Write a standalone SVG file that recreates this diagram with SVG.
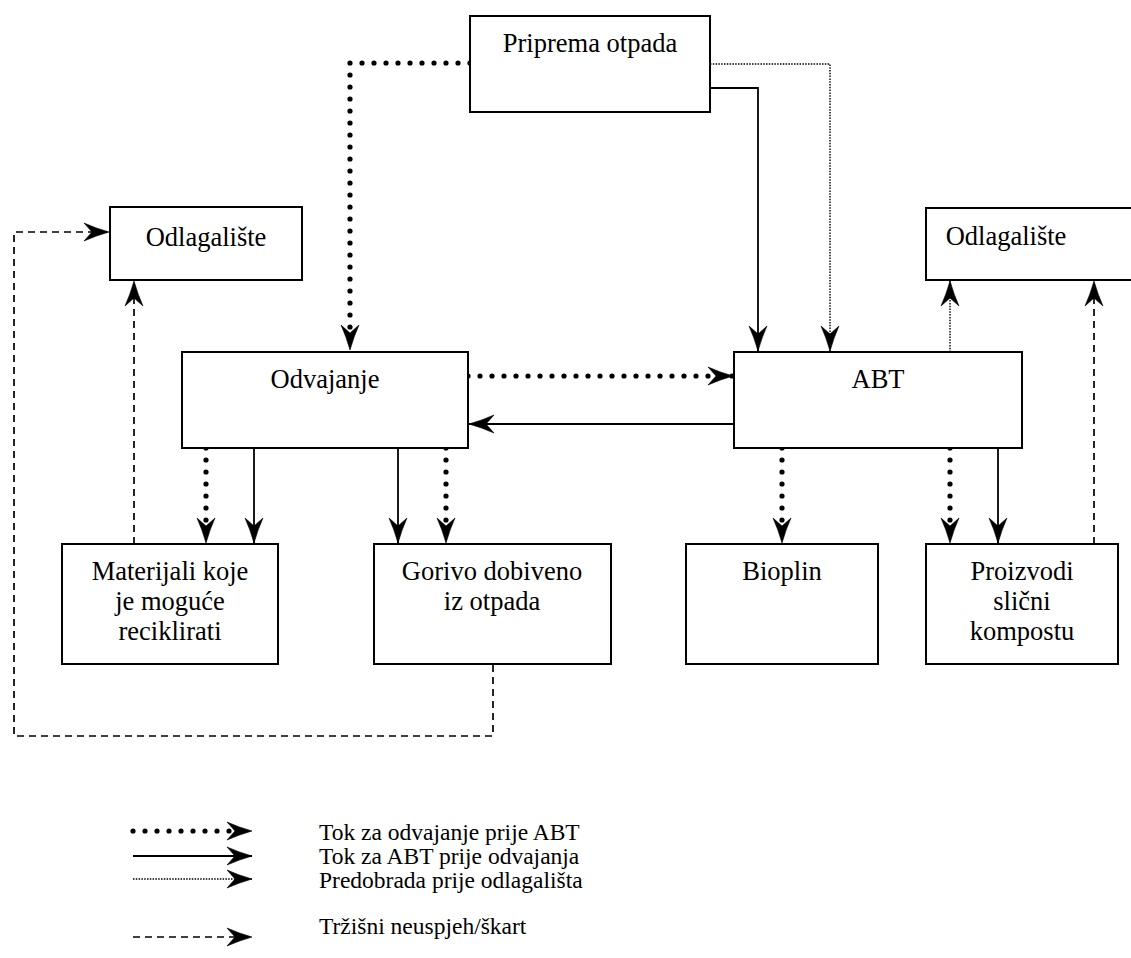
<svg xmlns="http://www.w3.org/2000/svg" width="1131" height="958" viewBox="0 0 1131 958">
<style>
.box{fill:#fff;stroke:#000;stroke-width:2}
.t{font-family:"Liberation Serif","Times New Roman",serif;font-size:26.5px;fill:#000;text-anchor:middle}
.lt{font-family:"Liberation Serif","Times New Roman",serif;font-size:23.5px;fill:#000}
.big{fill:none;stroke:#000;stroke-width:5.2;stroke-linecap:round;stroke-dasharray:0 12}
.sol{fill:none;stroke:#000;stroke-width:1.8}
.fine{fill:none;stroke:#000;stroke-width:1.4;stroke-dasharray:1.5 1.3}
.dash{fill:none;stroke:#000;stroke-width:1.7;stroke-dasharray:7 5}
.arr{marker-end:url(#ah)}
</style>
<defs>
<marker id="ah" markerUnits="userSpaceOnUse" orient="auto" refX="0" refY="0" markerWidth="40" markerHeight="40" style="overflow:visible">
<path d="M0,0 Q-14,-4 -25,-9 L-17,0 L-25,9 Q-14,4 0,0 Z" fill="#000" stroke="#000" stroke-width="0.6" stroke-linejoin="round"/>
</marker>
</defs>
<rect width="1131" height="958" fill="#fff"/>

<g id="connectors">
<path class="big arr" d="M470,63 H350 V350"/>
<path class="sol arr" d="M710,88 H758 V351"/>
<path class="fine arr" d="M710,64 H830 V351"/>
<path class="big arr" d="M468,376 H733"/>
<path class="sol arr" d="M734,424 H469"/>
<path class="big arr" d="M206,448 V543"/>
<path class="sol arr" d="M254,448 V543"/>
<path class="sol arr" d="M398,448 V543"/>
<path class="big arr" d="M446,448 V543"/>
<path class="big arr" d="M782,448 V543"/>
<path class="big arr" d="M950,448 V543"/>
<path class="sol arr" d="M998,448 V543"/>
<path class="fine arr" d="M950,352 V281"/>
<path class="dash arr" d="M1094,544 V281"/>
<path class="dash arr" d="M134,544 V281"/>
<path class="dash arr" d="M493,665 V736 H14 V232 H109"/>
</g>

<g id="priprema"><rect class="box" x="470" y="16" width="240" height="96"/><text class="t" x="590" y="52">Priprema otpada</text></g>
<g id="odlagaliste-l"><rect class="box" x="110" y="207" width="192" height="73"/><text class="t" x="206" y="246">Odlagalište</text></g>
<g id="odlagaliste-r"><rect class="box" x="926" y="208" width="230" height="72"/><text class="t" x="1006" y="245">Odlagalište</text></g>
<g id="odvajanje"><rect class="box" x="182" y="352" width="286" height="96"/><text class="t" x="325" y="388">Odvajanje</text></g>
<g id="abt"><rect class="box" x="734" y="352" width="288" height="96"/><text class="t" x="878" y="388">ABT</text></g>
<g id="materijali"><rect class="box" x="62" y="544" width="216" height="120"/><text class="t" x="170" y="580">Materijali koje</text><text class="t" x="170" y="610">je moguće</text><text class="t" x="170" y="640">reciklirati</text></g>
<g id="gorivo"><rect class="box" x="374" y="544" width="237" height="120"/><text class="t" x="492" y="580">Gorivo dobiveno</text><text class="t" x="492" y="610">iz otpada</text></g>
<g id="bioplin"><rect class="box" x="686" y="544" width="192" height="120"/><text class="t" x="782" y="580">Bioplin</text></g>
<g id="proizvodi"><rect class="box" x="926" y="544" width="192" height="120"/><text class="t" x="1022" y="580">Proizvodi</text><text class="t" x="1022" y="610">slični</text><text class="t" x="1022" y="640">kompostu</text></g>

<g id="legend">
<path class="big arr" d="M133,831 H252"/>
<path class="sol arr" d="M133,856 H252"/>
<path class="fine arr" d="M133,879 H252"/>
<path class="dash arr" d="M133,937 H252"/>
<text class="lt" x="319" y="840">Tok za odvajanje prije ABT</text>
<text class="lt" x="319" y="864">Tok za ABT prije odvajanja</text>
<text class="lt" x="319" y="888">Predobrada prije odlagališta</text>
<text class="lt" x="319" y="934">Tržišni neuspjeh/škart</text>
</g>
</svg>
